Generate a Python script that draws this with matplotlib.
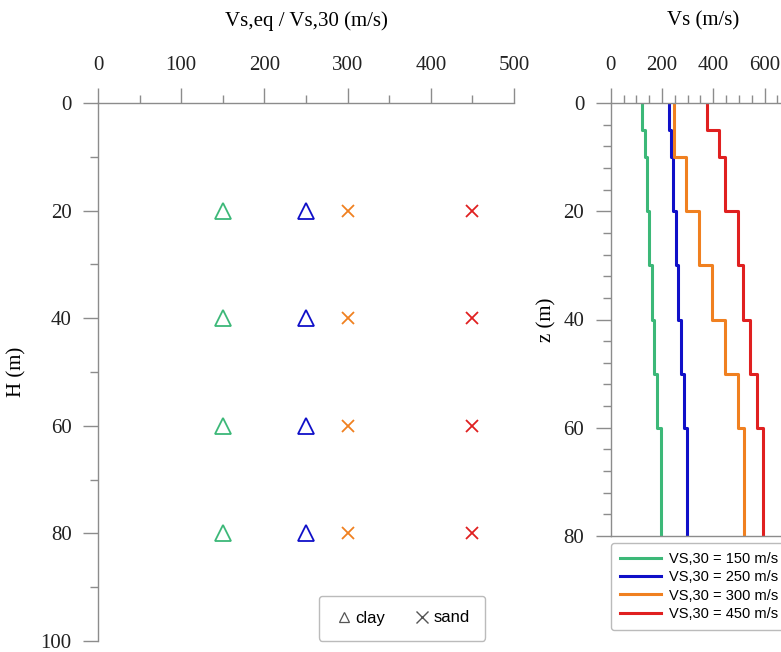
import matplotlib.pyplot as plt
from matplotlib.lines import Line2D
from matplotlib.ticker import MultipleLocator

# data
depths_H = [20, 40, 60, 80]
vs30_values = [150, 250, 300, 450]
soil_types = ["clay", "clay", "sand", "sand"]
colors = ["#3cb878", "#1010c8", "#f08020", "#e02020"]

# layer boundaries of the Vs profiles (m)
layer_top = [0, 5, 10, 20, 30, 40, 50, 60]
layer_bot = [5, 10, 20, 30, 40, 50, 60, 80]
vs_150 = [122, 132, 140, 150, 160, 170, 182, 195]
vs_250 = [226, 235, 244, 253, 264, 274, 284, 296]
vs_300 = [247, 247, 295, 346, 396, 447, 495, 520]
vs_450 = [375, 421, 445, 495, 516, 543, 569, 593]
profiles = [vs_150, vs_250, vs_300, vs_450]

serif = ["Liberation Serif", "DejaVu Serif"]
sans = ["Liberation Sans", "DejaVu Sans"]
axis_gray = "#8c8c8c"

W, H = 781, 652
fig = plt.figure(figsize=(W / 100, H / 100), dpi=100)


def style_axis(ax):
    for s in ax.spines.values():
        s.set_color(axis_gray)
        s.set_linewidth(1.0)
    ax.tick_params(which="both", direction="out", colors=axis_gray,
                   labelcolor="#222222", labelsize=15)
    ax.tick_params(which="major", length=11, width=1.0)
    ax.tick_params(which="minor", length=6, width=1.0)
    ax.tick_params(axis="x", pad=9)
    ax.tick_params(axis="y", pad=8)
    for lab in ax.get_xticklabels() + ax.get_yticklabels():
        lab.set_family(serif)


# ---- left panel: equivalent velocities ----
ax1 = fig.add_axes([98 / W, 1 - 641 / H, (514 - 98) / W, 538 / H])
ax1.set_xlim(0, 500)
ax1.set_ylim(100, 0)
ax1.xaxis.tick_top()
ax1.xaxis.set_label_position("top")
ax1.xaxis.set_major_locator(MultipleLocator(100))
ax1.xaxis.set_minor_locator(MultipleLocator(50))
ax1.yaxis.set_major_locator(MultipleLocator(20))
ax1.yaxis.set_minor_locator(MultipleLocator(10))
ax1.spines["right"].set_visible(False)
ax1.spines["bottom"].set_visible(False)

for v, soil, c in zip(vs30_values, soil_types, colors):
    mk = "^" if soil == "clay" else "x"
    ax1.plot([v] * len(depths_H), depths_H, linestyle="none", marker=mk,
             markersize=11 if mk == "^" else 9, markerfacecolor="none",
             markeredgecolor=c, markeredgewidth=1.3, clip_on=False)

style_axis(ax1)
ax1.set_xlabel("Vs,eq / Vs,30 (m/s)", family=serif, fontsize=15, labelpad=22)
ax1.set_ylabel("H (m)", family=serif, fontsize=15, labelpad=10)

marker_handles = [
    Line2D([], [], linestyle="none", marker="^", markersize=7,
           markerfacecolor="none", markeredgecolor="#555555", markeredgewidth=0.9),
    Line2D([], [], linestyle="none", marker="x", markersize=8,
           markeredgecolor="#555555", markeredgewidth=1.0),
]
leg1 = ax1.legend(marker_handles, ["clay", "sand"], ncol=2,
                  loc="center", bbox_to_anchor=(402 / W, 1 - 618 / H),
                  bbox_transform=fig.transFigure, prop={"family": sans, "size": 12},
                  frameon=True, fancybox=True, edgecolor="#aaaaaa",
                  handletextpad=0.1, columnspacing=1.6, borderpad=0.9,
                  handlelength=1.2)
leg1.get_frame().set_linewidth(1.0)

# ---- right panel: Vs profiles ----
ax2 = fig.add_axes([610.7 / W, 1 - 536 / H, (720 * 0.2565) / W, 433 / H])
ax2.set_xlim(0, 720)
ax2.set_ylim(80, 0)
ax2.xaxis.tick_top()
ax2.xaxis.set_label_position("top")
ax2.xaxis.set_major_locator(MultipleLocator(200))
ax2.xaxis.set_minor_locator(MultipleLocator(50))
ax2.yaxis.set_major_locator(MultipleLocator(20))
ax2.yaxis.set_minor_locator(MultipleLocator(4))
ax2.spines["right"].set_visible(False)

for vs, c, v30 in zip(profiles, colors, vs30_values):
    xs, zs = [], []
    for t, b, v in zip(layer_top, layer_bot, vs):
        xs += [v, v]
        zs += [t, b]
    ax2.plot(xs, zs, color=c, linewidth=2.2, label=f"VS,30 = {v30} m/s")

style_axis(ax2)
ax2.set_xlabel("Vs (m/s)", family=serif, fontsize=15, labelpad=22)
ax2.set_ylabel("z (m)", family=serif, fontsize=15, labelpad=5)

leg2 = ax2.legend(loc="upper left", bbox_to_anchor=(611 / W, 1 - 543 / H),
                  bbox_transform=fig.transFigure, prop={"family": sans, "size": 10.5},
                  frameon=True, fancybox=True, edgecolor="#aaaaaa",
                  handlelength=2.8, handletextpad=0.6, labelspacing=0.3,
                  borderpad=0.6, borderaxespad=0)
leg2.get_frame().set_linewidth(1.0)

fig.savefig("out.png", dpi=100)
